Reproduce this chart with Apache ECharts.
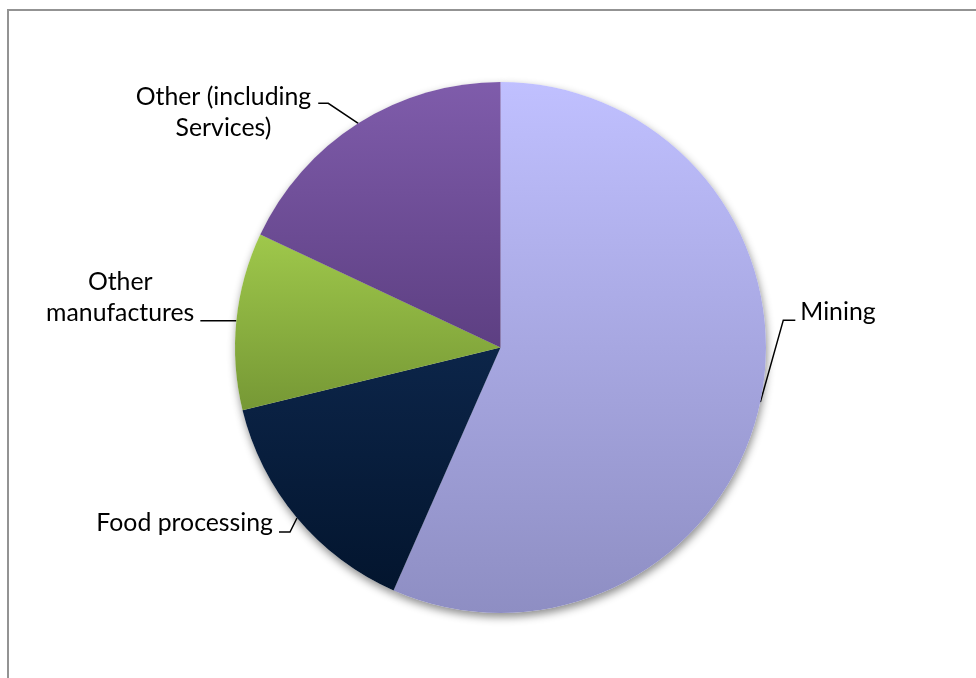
<!DOCTYPE html>
<html>
<head>
<meta charset="utf-8">
<script src="https://cdn.jsdelivr.net/npm/echarts@6/dist/echarts.min.js"></script>
<style>
  html, body { margin: 0; padding: 0; background: #fff; }
  #chart { width: 976px; height: 678px; }
</style>
</head>
<body>
<div id="chart"></div>
<script>
// ---- data ----
const categories = ['Mining', 'Food processing', 'Other manufactures', 'Other (including Services)'];
const shares = [56.6, 14.6, 10.8, 18.0];
const labelTexts = ['Mining', 'Food processing', 'Other\nmanufactures', 'Other (including\nServices)'];

// ---- styles ----
const gradients = [
  ['#C0C0FF', '#8E8EC3'],
  ['#0C2549', '#03152E'],
  ['#9FC84B', '#769835'],
  ['#7F5CAB', '#5D3F82']
];
// label guide geometry relative to the slice anchor on the arc
const guides = [
  { dx: 23, dy: -82, len: 12, side: 1, gap: 5, ty: -8 },
  { dx: -7, dy: 14, len: 11, side: -1, gap: 6, ty: -9 },
  { dx: 0, dy: 0, len: 36, side: -1, gap: 6, ty: -23 },
  { dx: -30, dy: -20, len: 10, side: -1, gap: 7, ty: 9 }
];

function grad(c) {
  return new echarts.graphic.LinearGradient(0, 0, 0, 1, [
    { offset: 0, color: c[0] },
    { offset: 1, color: c[1] }
  ]);
}

const chart = echarts.init(document.getElementById('chart'), null, { renderer: 'canvas' });
const CENTER = [500.5, 347.5];
const RADIUS = 265.5;

chart.setOption({
  backgroundColor: '#ffffff',
  animation: false,
  graphic: [{
    type: 'rect',
    shape: { x: 8, y: 10, width: 1100, height: 800 },
    style: { fill: 'none', stroke: '#939393', lineWidth: 2 },
    silent: true,
    z: -10
  }],
  series: [
    {
      type: 'pie',
      silent: true,
      center: CENTER,
      radius: RADIUS,
      startAngle: 90,
      clockwise: true,
      z: 1,
      label: { show: false },
      labelLine: { show: false },
      itemStyle: {
        color: '#ffffff',
        shadowBlur: 9,
        shadowOffsetY: 4,
        shadowOffsetX: 1,
        shadowColor: 'rgba(0,0,0,0.45)'
      },
      data: categories.map((n, i) => ({ name: n, value: shares[i] }))
    },
    {
      type: 'pie',
      silent: true,
      center: CENTER,
      radius: RADIUS,
      startAngle: 90,
      clockwise: true,
      z: 2,
      avoidLabelOverlap: false,
      label: {
        show: true,
        position: 'outside',
        fontFamily: 'Lato',
        fontSize: 24.8,
        lineHeight: 31,
        color: '#000000',
        formatter: p => labelTexts[p.dataIndex]
      },
      labelLine: {
        show: true,
        length: 10,
        length2: 10,
        smooth: false,
        lineStyle: { color: '#000000', width: 1.5 }
      },
      labelLayout: function (p) {
        const g = guides[p.dataIndex];
        const a = p.labelLinePoints[0];
        const e = [a[0] + g.dx, a[1] + g.dy];
        const h = [e[0] + g.side * g.len, e[1]];
        const w = p.labelRect.width;
        let x;
        if (g.side > 0) {
          x = h[0] + g.gap + w / 2;
        } else {
          x = h[0] - g.gap - w / 2;
        }
        return {
          x: x,
          y: h[1] + g.ty,
          align: 'center',
          verticalAlign: 'middle',
          labelLinePoints: [a, e, h]
        };
      },
      data: categories.map((n, i) => ({
        name: n,
        value: shares[i],
        itemStyle: { color: grad(gradients[i]) }
      }))
    }
  ]
});
</script>
</body>
</html>
